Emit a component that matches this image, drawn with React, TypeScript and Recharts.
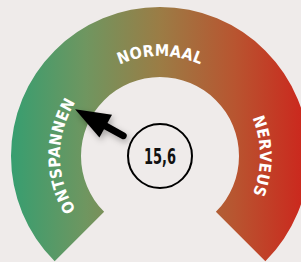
import React from 'react';
import { PieChart, Pie, Cell } from 'recharts';

const zoneNames = ['ONTSPANNEN', 'NORMAAL', 'NERVEUS'];
const zoneSizes = [19, 19, 19];
const gaugeValue = 15.6;
const valueLabel = '15,6';

const W = 301;
const H = 262;
const CX = 160;
const CY = 156;
const INNER = 79;
const OUTER = 149;
const START = 225;
const END = -45;
const TEXT_R = 100;
const BG = '#efebea';
const FONT = '"DejaVu Sans Condensed", "DejaVu Sans", sans-serif';

const total = zoneSizes.reduce((a, b) => a + b, 0);
const zoneData = zoneNames.map((name, i) => ({ name, value: zoneSizes[i] }));
const bgData = [{ name: 'all', value: total }];
const needleData = [
  { name: 'value', value: gaugeValue },
  { name: 'rest', value: total - gaugeValue },
];

const RAD = Math.PI / 180;
const pt = (cx: number, cy: number, r: number, a: number) => [cx + r * Math.cos(a * RAD), cy - r * Math.sin(a * RAD)];

const renderZoneLabel = (props: any) => {
  const { cx, cy, midAngle, index } = props;
  const a0 = midAngle + 60;
  const a1 = midAngle - 60;
  const [x0, y0] = pt(cx, cy, TEXT_R, a0);
  const [x1, y1] = pt(cx, cy, TEXT_R, a1);
  const id = `zone-path-${index}`;
  return (
    <g key={id}>
      <path id={id} d={`M ${x0} ${y0} A ${TEXT_R} ${TEXT_R} 0 0 1 ${x1} ${y1}`} fill="none" stroke="none" />
      <text fill="#ffffff" fontFamily={FONT} fontWeight={700} fontSize={16} letterSpacing={0.3}>
        <textPath href={`#${id}`} startOffset="50%" textAnchor="middle">
          {zoneNames[index]}
        </textPath>
      </text>
    </g>
  );
};

const renderNeedle = (props: any) => {
  const { cx, cy, index } = props;
  if (index !== 0) return <g key={`n-${index}`} />;
  const angle = typeof props.endAngle === 'number' ? props.endAngle : START - (gaugeValue / total) * (START - END);
  const [tx, ty] = pt(cx, cy, 42, angle);
  const [bx, by] = pt(cx, cy, 64, angle);
  const [hx, hy] = pt(cx, cy, 97, angle);
  const [bcx, bcy] = pt(cx, cy, 62, angle);
  const nx = -Math.sin(angle * RAD);
  const ny = -Math.cos(angle * RAD);
  const hw = 13;
  const p1 = `${bcx + nx * hw},${bcy + ny * hw}`;
  const p2 = `${bcx - nx * hw},${bcy - ny * hw}`;
  return (
    <g key="needle">
      <g filter="url(#needleShadow)">
        <line x1={tx} y1={ty} x2={bx} y2={by} stroke="#000" strokeWidth={7} strokeLinecap="round" />
        <polygon points={`${hx},${hy} ${p1} ${p2}`} fill="#000" />
      </g>
      <circle cx={cx} cy={cy} r={32} fill={BG} stroke="#000" strokeWidth={2} />
      <text
        x={cx}
        y={cy + 1}
        textAnchor="middle"
        dominantBaseline="central"
        fontFamily={FONT}
        fontWeight={700}
        fontSize={21}
        fill="#111"
        textLength={32}
        lengthAdjust="spacingAndGlyphs"
      >
        {valueLabel}
      </text>
    </g>
  );
};

export default function App() {
  return (
    <div style={{ position: 'fixed', left: 0, top: 0, width: W, height: H, background: BG, overflow: 'hidden' }}>
      <svg width={0} height={0} style={{ position: 'absolute' }}>
        <defs>
          <linearGradient id="gaugeGrad" gradientUnits="userSpaceOnUse" x1={CX - OUTER} y1={0} x2={CX + OUTER} y2={0}>
            <stop offset="0%" stopColor="#379e70" />
            <stop offset="25%" stopColor="#6f9660" />
            <stop offset="50%" stopColor="#9b7c45" />
            <stop offset="75%" stopColor="#b85530" />
            <stop offset="100%" stopColor="#cd241c" />
          </linearGradient>
          <filter id="needleShadow" x="-50%" y="-50%" width="200%" height="200%">
            <feDropShadow dx={2} dy={3} stdDeviation={3} floodColor="#000" floodOpacity={0.3} />
          </filter>
        </defs>
      </svg>
      <PieChart width={W} height={H} margin={{ top: 0, right: 0, bottom: 0, left: 0 }}>
        <Pie
          data={bgData}
          dataKey="value"
          cx={CX}
          cy={CY}
          innerRadius={INNER}
          outerRadius={OUTER}
          startAngle={START}
          endAngle={END}
          stroke="none"
          isAnimationActive={false}
        >
          <Cell fill="url(#gaugeGrad)" />
        </Pie>
        <Pie
          data={zoneData}
          dataKey="value"
          cx={CX}
          cy={CY}
          innerRadius={INNER}
          outerRadius={OUTER}
          startAngle={START}
          endAngle={END}
          stroke="none"
          fill="transparent"
          label={renderZoneLabel}
          labelLine={false}
          isAnimationActive={false}
        />
        <Pie
          data={needleData}
          dataKey="value"
          cx={CX}
          cy={CY}
          innerRadius={0}
          outerRadius={1}
          startAngle={START}
          endAngle={END}
          stroke="none"
          fill="transparent"
          label={renderNeedle}
          labelLine={false}
          isAnimationActive={false}
        />
      </PieChart>
    </div>
  );
}
